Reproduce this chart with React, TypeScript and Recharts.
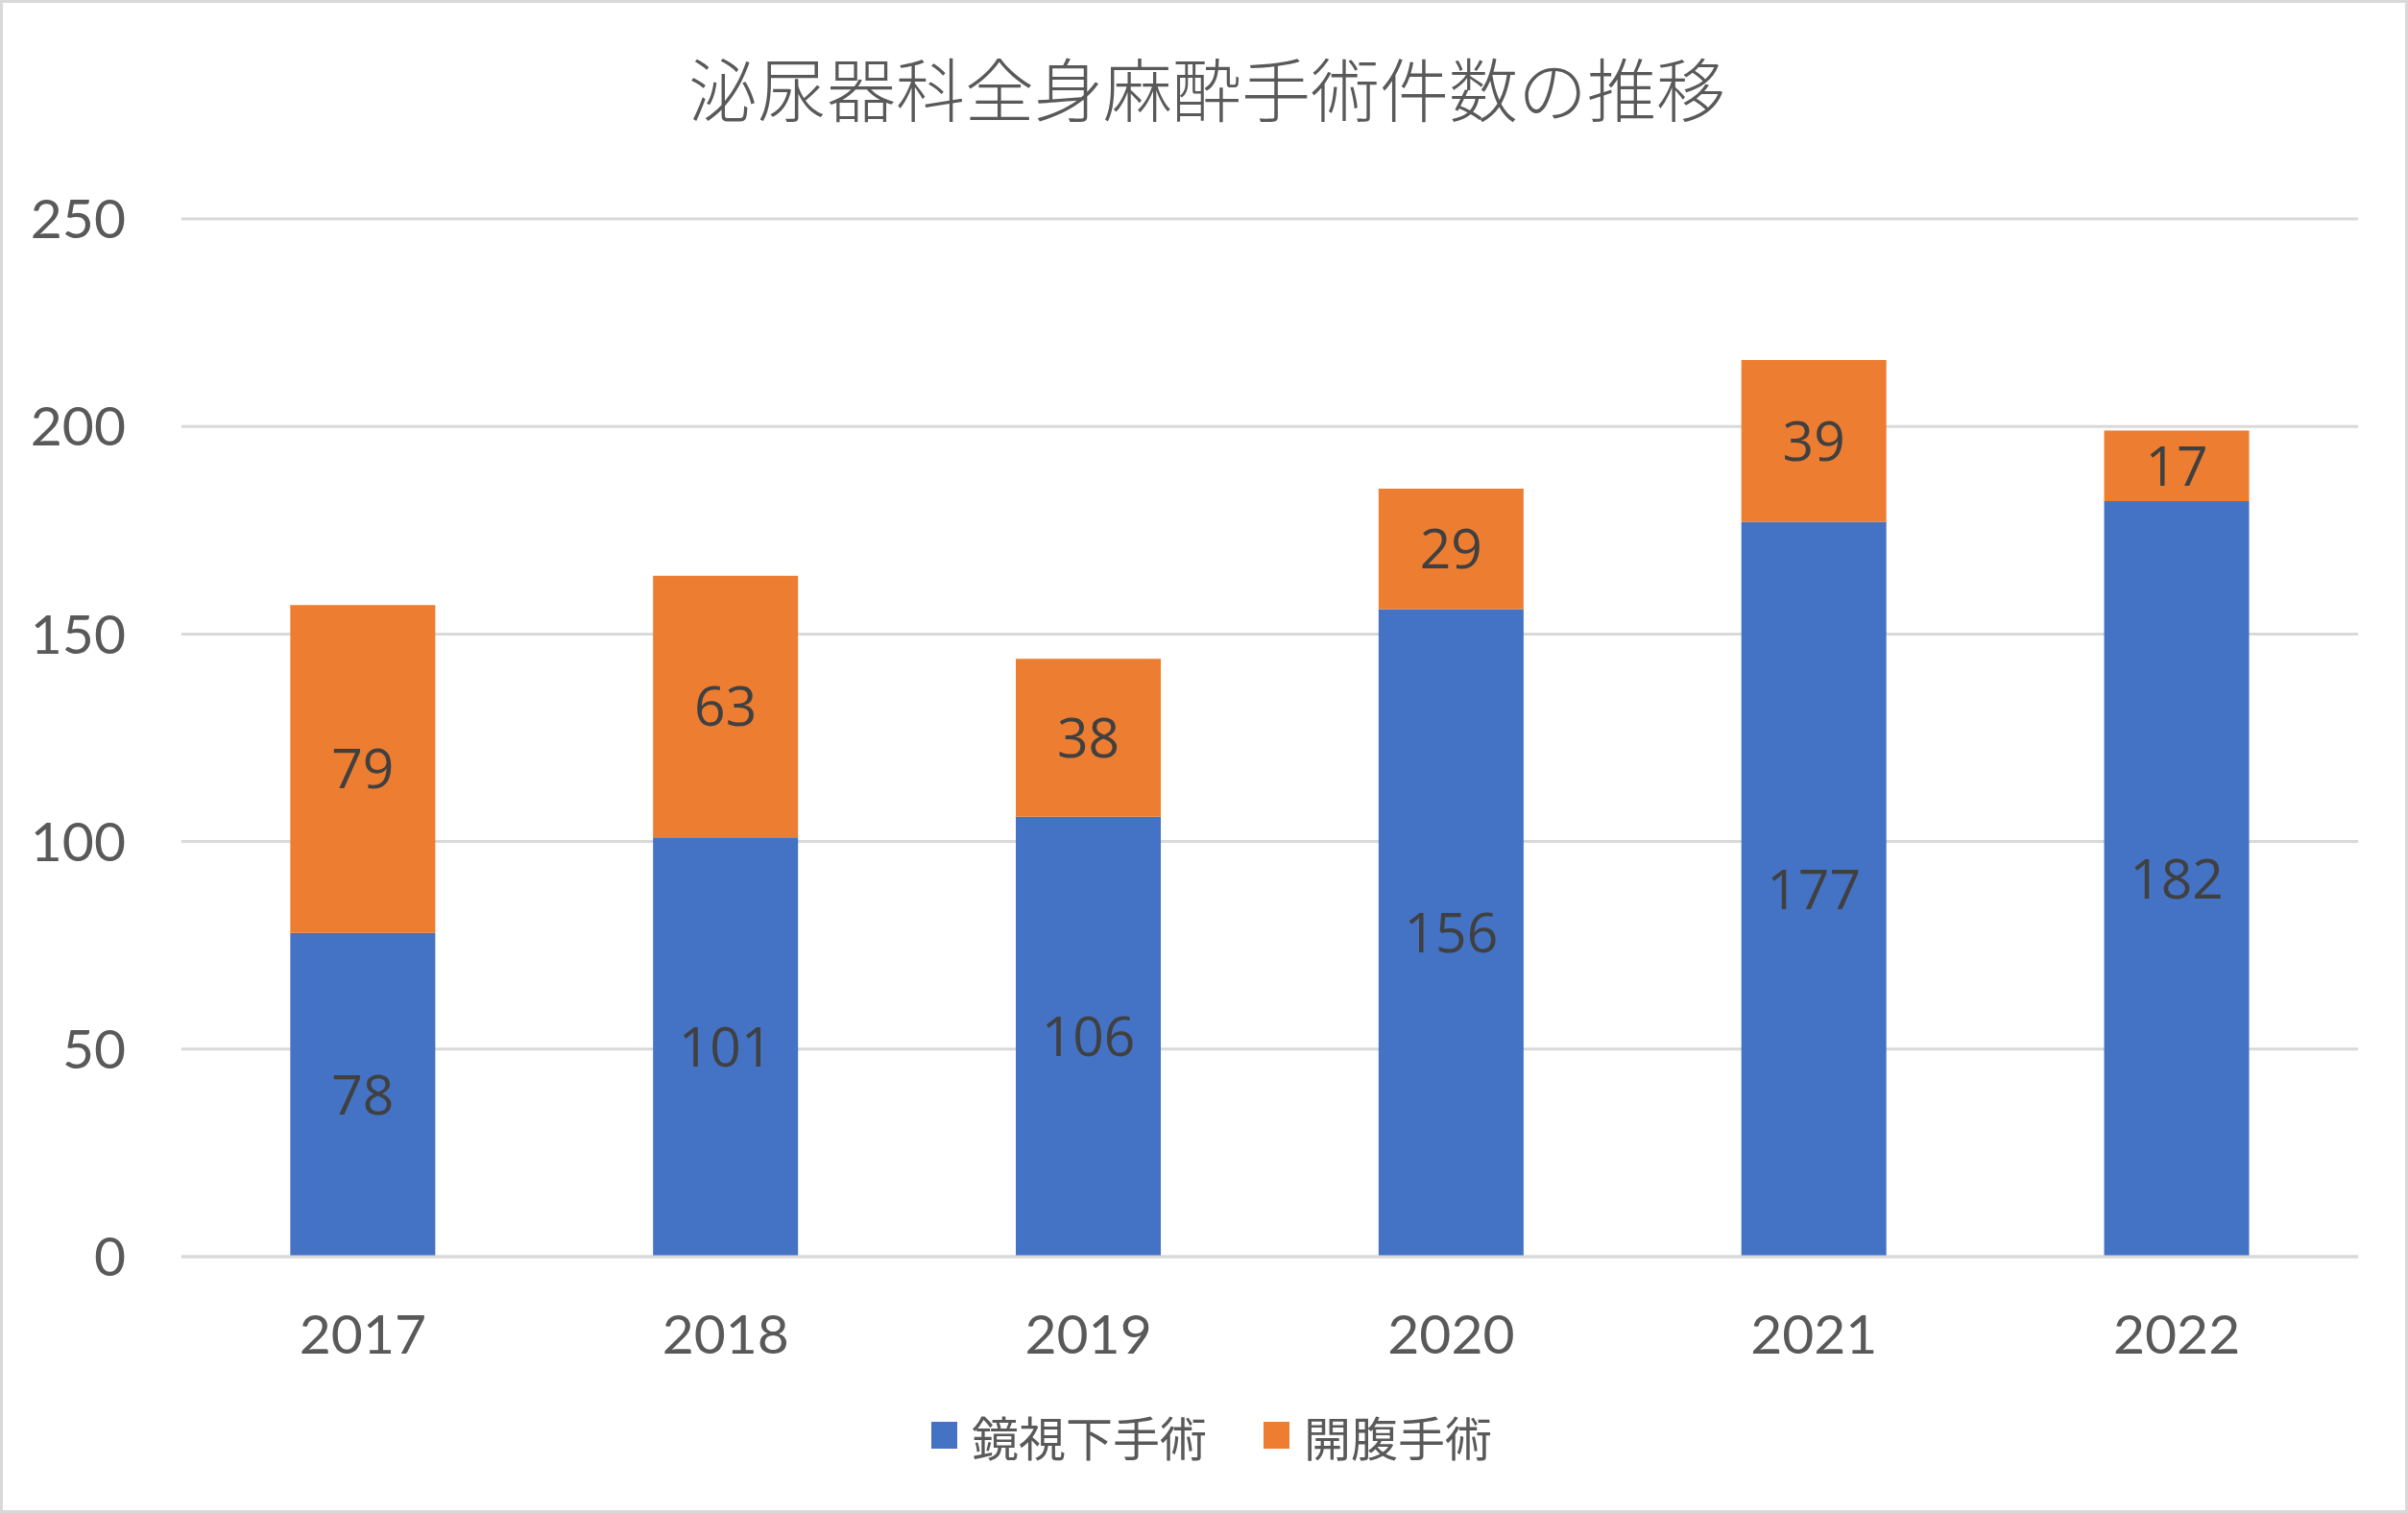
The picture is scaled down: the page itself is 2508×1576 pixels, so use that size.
import { BarChart, Bar, XAxis, YAxis, CartesianGrid, Legend, LabelList } from "recharts";

const YEARS = ["2017", "2018", "2019", "2020", "2021", "2022"];
const ENDOSCOPIC = [78, 101, 106, 156, 177, 182];
const OPEN = [79, 63, 38, 29, 39, 17];
const Y_TICKS = [0, 50, 100, 150, 200, 250];

const SERIES = [
  { key: "endo", name: "鏡視下手術", color: "#4472C4" },
  { key: "open", name: "開腹手術", color: "#ED7D31" },
];

const data = YEARS.map((year, i) => ({ year, endo: ENDOSCOPIC[i], open: OPEN[i] }));

const W = 2508;
const H = 1576;
const TEXT = "#595959";
const GRID = "#d9d9d9";
const AXIS_FONT = "Lato, 'Noto Sans', sans-serif";
const CJK_FONT = "'Noto Sans CJK JP', 'Noto Sans', sans-serif";

function LegendContent() {
  return (
    <div
      style={{
        display: "flex",
        justifyContent: "center",
        alignItems: "center",
        height: 80,
        paddingLeft: 16,
        fontFamily: CJK_FONT,
        fontSize: 49,
        color: TEXT,
      }}
    >
      {SERIES.map((s, i) => (
        <div key={s.key} style={{ display: "flex", alignItems: "center", marginLeft: i ? 59 : 0 }}>
          <span style={{ width: 27, height: 28, background: s.color, marginRight: 15, display: "inline-block" }} />
          <span style={{ lineHeight: 1 }}>{s.name}</span>
        </div>
      ))}
    </div>
  );
}

export default function App() {
  return (
    <div
      style={{
        position: "absolute",
        left: 0,
        top: 0,
        width: W,
        height: H,
        boxSizing: "border-box",
        border: `3px solid ${GRID}`,
        background: "#fff",
        overflow: "hidden",
      }}
    >
      <div
        style={{
          position: "absolute",
          left: 0,
          top: 51,
          width: W,
          textAlign: "center",
          fontFamily: CJK_FONT,
          fontWeight: 300,
          fontSize: 72,
          lineHeight: 1,
          color: TEXT,
        }}
      >
        泌尿器科全身麻酔手術件数の推移
      </div>
      <div style={{ position: "absolute", left: -3, top: -3 }}>
        <BarChart
          width={W}
          height={H}
          data={data}
          margin={{ top: 228, right: 52, left: 0, bottom: 41 }}
          barCategoryGap="30%"
        >
          <CartesianGrid vertical={false} stroke={GRID} strokeWidth={3} />
          <XAxis
            dataKey="year"
            axisLine={{ stroke: GRID, strokeWidth: 3 }}
            tickLine={false}
            tickSize={0}
            tickMargin={61}
            height={146}
            tick={{ fill: TEXT, fontSize: 57, fontFamily: AXIS_FONT }}
          />
          <YAxis
            domain={[0, 250]}
            ticks={Y_TICKS}
            width={189}
            axisLine={false}
            tickLine={false}
            tickSize={0}
            tickMargin={58}
            tick={{ fill: TEXT, fontSize: 57, fontFamily: AXIS_FONT }}
          />
          <Legend
            verticalAlign="bottom"
            content={() => <LegendContent />}
            wrapperStyle={{ left: 0, width: W, bottom: 41, height: 80 }}
          />
          {SERIES.map((s) => (
            <Bar key={s.key} dataKey={s.key} name={s.name} stackId="a" fill={s.color} isAnimationActive={false}>
              <LabelList
                dataKey={s.key}
                position="center"
                fill="#404040"
                fontSize={57}
                fontFamily="'Open Sans', sans-serif"
              />
            </Bar>
          ))}
        </BarChart>
      </div>
    </div>
  );
}
